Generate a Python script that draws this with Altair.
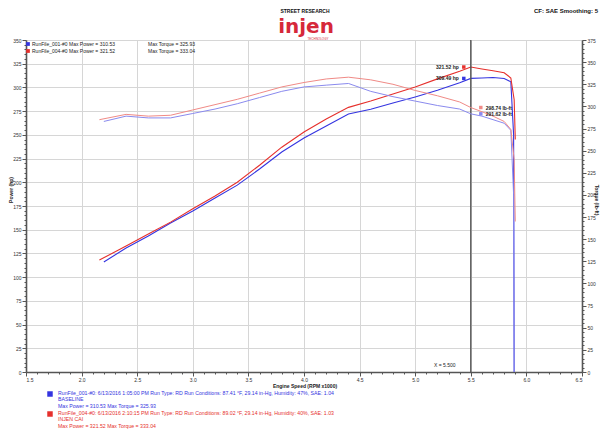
import altair as alt
import pandas as pd

# ---------------- data ----------------
runs = ["RunFile_001-#0", "RunFile_004-#0"]

blue_rpm = [2.2, 2.4, 2.6, 2.8, 3.0, 3.2, 3.4, 3.6, 3.8, 4.0, 4.2, 4.4, 4.6, 4.8,
            5.0, 5.2, 5.4, 5.5, 5.6, 5.7, 5.8, 5.86, 5.885, 5.89]
blue_hp = [116, 130.7, 143.3, 157, 169.7, 183.4, 197, 214, 231.9, 246.6, 259.3, 272,
           277, 283.5, 290, 297, 305, 309.5, 310, 310.5, 309.5, 306, 250, 0]
blue_tq = [283, 289, 287, 287, 292, 297, 303, 310, 317, 322, 324, 325.9, 317, 311,
           306, 301, 297, 291.6, 289, 285, 281, 273, 200, 0]

red_rpm = [2.16, 2.4, 2.6, 2.8, 3.0, 3.2, 3.4, 3.6, 3.8, 4.0, 4.2, 4.4, 4.6, 4.8,
           5.0, 5.2, 5.4, 5.5, 5.6, 5.7, 5.8, 5.86, 5.89, 5.9]
red_hp = [118, 132.8, 145.5, 158, 172, 185.5, 200, 218, 237, 253, 266.7, 279,
          285.6, 293, 300.4, 309, 317, 321.5, 319.5, 317.5, 315.5, 310, 287, 245]
red_tq = [285, 291, 289, 290, 296, 302, 308, 315, 322, 327, 331, 333, 330, 325,
          318, 312, 305, 298.7, 294, 289, 283, 274, 240, 170]

x_ticks = [1.5, 2.0, 2.5, 3.0, 3.5, 4.0, 4.5, 5.0, 5.5, 6.0, 6.5]
cursor_rpm = 5.5
cursor_hp = [309.49, 321.52]
cursor_tq = [291.62, 298.74]
max_power = ["310.53", "321.52"]
max_torque = ["325.93", "333.04"]
run_info = [
    "6/13/2016 1:05:00 PM  Run Type: RD  Run Conditions: 87.41 °F, 29.14 in-Hg, Humidity: 47%, SAE: 1.04",
    "6/13/2016 2:10:15 PM  Run Type: RD  Run Conditions: 89.02 °F, 29.14 in-Hg, Humidity: 40%, SAE: 1.03",
]
run_notes = ["BASELINE", "INJEN CAI"]

# ---------------- styling ----------------
power_colors = ["#3434e0", "#e6302c"]
torque_colors = ["#8a8aee", "#f08a86"]
FONT = "Liberation Sans"

power_df = pd.DataFrame({
    "rpm": blue_rpm + red_rpm,
    "val": blue_hp + red_hp,
    "run": [runs[0]] * len(blue_rpm) + [runs[1]] * len(red_rpm),
})
torque_df = pd.DataFrame({
    "rpm": blue_rpm + red_rpm,
    "val": blue_tq + red_tq,
    "run": [runs[0]] * len(blue_rpm) + [runs[1]] * len(red_rpm),
})
cur_p = pd.DataFrame({"rpm": [cursor_rpm] * 2, "val": cursor_hp, "run": runs,
                      "lbl": [f"{v:.2f} hp" for v in cursor_hp]})
cur_t = pd.DataFrame({"rpm": [cursor_rpm] * 2, "val": cursor_tq, "run": runs,
                      "lbl": [f"{v:.2f} lb-ft" for v in cursor_tq]})

x_minor = [round(1.5 + 0.1 * i, 1) for i in range(51)]
is_major_x = "abs(datum.value*2 - round(datum.value*2)) < 0.01"

common_axis = dict(
    title=None, labelOverlap=False, labelFontSize=5, labelFont=FONT, labelColor="#333",
    labelPadding=1, tickColor="#555", domainColor="#555", domainWidth=1.6,
)

x_axis = alt.Axis(
    values=x_minor,
    labelExpr=f"{is_major_x} ? format(datum.value, '.1f') : ''",
    tickSize={"condition": {"test": is_major_x, "value": 4}, "value": 2},
    grid=True, gridColor="#d6d6d6",
    gridOpacity={"condition": {"test": is_major_x, "value": 1}, "value": 0},
    **common_axis,
)
x_scale = alt.Scale(domain=[1.5, 6.5], nice=False, zero=False)


def X():
    return alt.X("rpm:Q", scale=x_scale, axis=x_axis)


left_axis = alt.Axis(
    values=list(range(0, 351, 5)),
    labelExpr="datum.value % 25 === 0 ? datum.label : ''",
    tickSize={"condition": {"test": "datum.value % 25 === 0", "value": 4}, "value": 2},
    grid=True, gridColor="#d6d6d6",
    gridOpacity={"condition": {"test": "datum.value % 25 === 0", "value": 1}, "value": 0},
    **common_axis,
)
right_axis = alt.Axis(
    values=list(range(0, 376, 5)), orient="right",
    labelExpr="datum.value % 25 === 0 ? datum.label : ''",
    tickSize={"condition": {"test": "datum.value % 25 === 0", "value": 4}, "value": 2},
    grid=False,
    **common_axis,
)


def YL():
    return alt.Y("val:Q", scale=alt.Scale(domain=[0, 350], nice=False), axis=left_axis)


def YR():
    return alt.Y("val:Q", scale=alt.Scale(domain=[0, 375], nice=False), axis=right_axis)


pcol = alt.Color("run:N", scale=alt.Scale(domain=runs, range=power_colors), legend=None)
tcol = alt.Color("run:N", scale=alt.Scale(domain=runs, range=torque_colors), legend=None)

power_line = alt.Chart(power_df).mark_line(strokeWidth=1.1).encode(x=X(), y=YL(), color=pcol)
power_pts = alt.Chart(cur_p).mark_square(size=12, xOffset=-7, opacity=1).encode(x=X(), y=YL(), color=pcol)
power_lbl = alt.Chart(cur_p).mark_text(align="right", dx=-12, fontSize=5, font=FONT,
                                       fontWeight="bold", color="#222").encode(
    x=X(), y=YL(), text="lbl:N")

torque_line = alt.Chart(torque_df).mark_line(strokeWidth=1.0).encode(x=X(), y=YR(), color=tcol)
torque_pts = alt.Chart(cur_t).mark_square(size=12, xOffset=10, opacity=1).encode(x=X(), y=YR(), color=tcol)
torque_lbl = alt.Chart(cur_t).mark_text(align="left", dx=15, fontSize=5, font=FONT,
                                        fontWeight="bold", color="#222").encode(
    x=X(), y=YR(), text="lbl:N")

cursor_rule = alt.Chart(pd.DataFrame({"rpm": [cursor_rpm]})).mark_rule(
    color="#555", strokeWidth=1.4).encode(x=X())
cursor_txt = alt.Chart(pd.DataFrame({"rpm": [cursor_rpm], "t": [f"X = {cursor_rpm:.3f}"]})).mark_text(
    align="center", dx=-26, fontSize=5, font=FONT, color="#222").encode(
    x=X(), y=alt.value(325), text="t:N")


def txt(s, x, y, size=5, color="#222", align="left", weight="normal", angle=0,
        baseline="middle", font=FONT, **kw):
    return alt.Chart(pd.DataFrame({"t": [s]})).mark_text(
        align=align, baseline=baseline, fontSize=size, color=color, font=font,
        fontWeight=weight, angle=angle, **kw).encode(
        x=alt.value(x), y=alt.value(y), text="t:N")


def sq(x, y, color, size=18):
    return alt.Chart(pd.DataFrame({"a": [0]})).mark_square(size=size, opacity=1, color=color).encode(
        x=alt.value(x), y=alt.value(y))


# chart coordinates: page x = 26 + x, page y = 40 + y
texts = [
    txt("STREET RESEARCH", 279, -29.5, size=5, weight="bold", align="center", color="#111"),
    txt("injen", 280, -13, size=20, weight="bold", align="center", color="#d6283a",
        font="DejaVu Sans"),
    txt("TECHNOLOGY", 292, -1, size=3, align="center", color="#d6283a"),
    txt("CF: SAE  Smoothing: 5", 572, -29.5, size=6, weight="bold", align="right", color="#111"),
    txt("Power (hp)", -15, 150, size=5, angle=270, align="center", weight="bold"),
    txt("Torque (lb-ft)", 571, 160, size=5, angle=90, align="center", weight="bold"),
    txt("Engine Speed (RPM x1000)", 279, 346, size=5, align="center", weight="bold"),
    sq(2, 4, power_colors[0], 14), sq(2, 11, power_colors[1], 14),
    txt(f"{runs[0]}  Max Power = {max_power[0]}", 6, 4, size=5),
    txt(f"{runs[1]}  Max Power = {max_power[1]}", 6, 11, size=5),
    txt(f"Max Torque = {max_torque[0]}", 122, 4, size=5),
    txt(f"Max Torque = {max_torque[1]}", 122, 11, size=5),
]
block_y = [353, 373]
for i in range(2):
    y0 = block_y[i]
    c = power_colors[i]
    texts += [
        sq(24, y0 + 1, c, 30),
        txt(f"{runs[i]}: {run_info[i]}", 32, y0, size=5.2, color=c),
        txt(run_notes[i], 32, y0 + 6.3, size=5.2, color=c),
        txt(f"Max Power = {max_power[i]}  Max Torque = {max_torque[i]}", 32, y0 + 12.6, size=5.2, color=c),
    ]

left = alt.layer(power_line, cursor_rule, power_pts, power_lbl, cursor_txt, *texts)
right = alt.layer(torque_line, torque_pts, torque_lbl)

chart = alt.layer(left, right).resolve_scale(y="independent", color="independent").properties(
    width=556, height=332,
    padding={"left": 18, "top": 32, "right": 18, "bottom": 58},
    autosize=alt.AutoSizeParams(type="none"),
    background="white",
).configure_view(stroke="#aaaaaa", strokeWidth=1)

chart.save("out.html", embed_options={"renderer": "svg", "actions": False})
